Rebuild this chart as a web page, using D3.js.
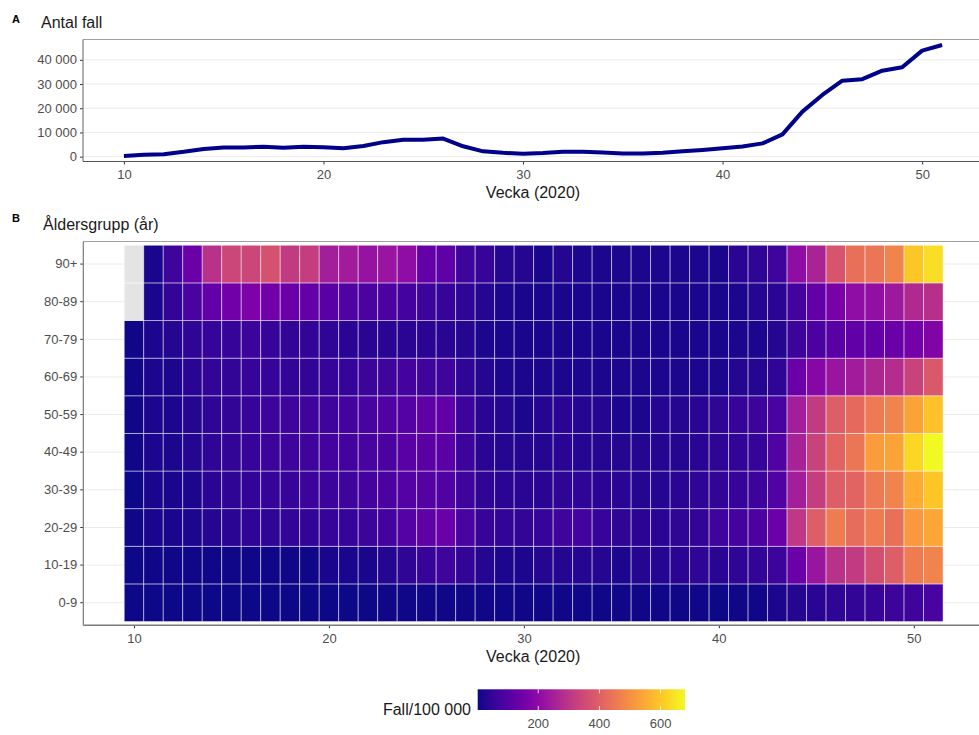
<!DOCTYPE html>
<html>
<head>
<meta charset="utf-8">
<script src="https://cdn.jsdelivr.net/npm/d3@7"></script>
<style>
  html, body { margin: 0; padding: 0; background: #fff; }
  svg { display: block; font-family: "Liberation Sans", Arial, Helvetica, sans-serif; }
</style>
</head>
<body>
<svg id="chart" width="979" height="735"></svg>
<script>
// ---------------- DATA ----------------
const weeks = [10,11,12,13,14,15,16,17,18,19,20,21,22,23,24,25,26,27,28,29,30,
               31,32,33,34,35,36,37,38,39,40,41,42,43,44,45,46,47,48,49,50,51];

// Panel A: number of cases per week
const cases = [300,800,1000,2000,3200,3800,3800,4100,3700,4100,3900,3500,4400,6000,7000,7000,7500,
               4300,2200,1600,1200,1500,2000,2000,1700,1300,1300,1600,2200,2800,3500,4200,5500,
               9200,18600,25500,31400,32000,35500,36900,43800,46100];

// Panel B: cases per 100 000 by age group (weeks 10..51), null = missing
const ageGroups = ["0-9","10-19","20-29","30-39","40-49","50-59","60-69","70-79","80-89","90+"];

const rate_0_9   = [2,4,4,4,4,4,4,4,4,4,4,4,4,5,5,5,5,5,5,5,5,5,5,5,5,5,5,5,6,6,4,6,7,
                    20,27,34,41,48,54,61,68,82];
const rate_10_19 = [2,7,7,7,7,7,7,7,7,7,14,14,14,27,41,54,68,48,27,20,20,27,27,27,27,20,27,27,34,41,34,41,48,
                    61,136,224,292,313,360,394,462,476];
const rate_20_29 = [7,14,14,20,27,34,41,41,48,48,54,54,61,75,102,116,136,82,54,48,48,54,68,75,54,41,34,34,41,48,68,75,88,
                    136,306,394,462,428,462,435,517,544];
const rate_30_39 = [3,14,14,20,34,41,48,54,54,61,61,68,75,88,102,102,95,68,41,34,34,34,41,41,34,34,27,27,34,41,48,54,61,
                    95,245,320,394,408,456,476,551,598];
const rate_40_49 = [7,20,20,27,41,48,54,61,68,68,75,75,82,88,109,109,109,61,34,27,27,27,34,27,27,27,27,27,27,34,41,48,54,
                    95,252,333,408,449,524,537,626,680];
const rate_50_59 = [7,20,20,27,41,48,54,61,68,68,68,75,82,95,102,116,122,61,34,27,20,27,34,27,27,20,20,27,27,34,41,54,61,
                    82,245,313,394,422,456,476,537,592];
const rate_60_69 = [7,20,20,34,48,48,54,54,48,48,54,54,61,68,75,68,68,41,27,20,20,20,20,20,20,20,20,20,20,20,20,27,27,
                    41,136,190,224,238,265,279,333,381];
const rate_70_79 = [7,20,27,41,54,54,61,54,48,48,41,34,34,34,34,34,34,27,20,14,14,14,14,14,14,14,14,14,14,14,14,20,20,
                    27,61,88,109,122,129,136,156,177];
const rate_80_89 = [null,14,48,82,129,150,170,150,136,129,109,95,88,88,75,61,54,41,27,20,14,14,14,14,14,14,14,14,14,14,14,20,27,
                    34,75,122,163,204,211,231,272,286];
const rate_90p   = [null,14,68,136,292,340,340,367,313,320,245,238,218,224,204,129,116,68,54,27,27,14,27,20,20,20,20,20,20,20,14,34,41,
                    68,204,258,374,435,449,476,598,639];

const rateRows = [rate_0_9, rate_10_19, rate_20_29, rate_30_39, rate_40_49,
                  rate_50_59, rate_60_69, rate_70_79, rate_80_89, rate_90p];

const yTicksA = [0, 10000, 20000, 30000, 40000];
const xTicks = [10, 20, 30, 40, 50];
const legendTicks = [200, 400, 600];

// ---------------- DRAW ----------------
const svg = d3.select("#chart");
const fmt = d => d3.format(",")(d).replace(/,/g, "\u2009").replace(/\u2009/g, " ");
const tickColor = "#4d4d4d";
const axisLineColor = "#7a7a7a";
const gridColor = "#ebebeb";

// ===== Panel A =====
const A = { left: 83, right: 983, top: 39.5, bottom: 161.5 };
const aMin = d3.min(cases), aMax = d3.max(cases);
const aPad = (aMax - aMin) * 0.05;
const xA = d3.scaleLinear().domain([d3.min(weeks) - (d3.max(weeks)-d3.min(weeks))*0.05,
                                    d3.max(weeks) + (d3.max(weeks)-d3.min(weeks))*0.05])
             .range([A.left, A.right]);
const yA = d3.scaleLinear().domain([aMin - aPad, aMax + aPad]).range([A.bottom, A.top]);

const gA = svg.append("g");
// gridlines
gA.selectAll("line.grid").data(yTicksA).join("line")
  .attr("x1", A.left).attr("x2", A.right)
  .attr("y1", d => yA(d)).attr("y2", d => yA(d))
  .attr("stroke", gridColor).attr("stroke-width", 1);
// top border
gA.append("line").attr("x1", A.left).attr("x2", A.right).attr("y1", A.top).attr("y2", A.top)
  .attr("stroke", "#a0a0a0").attr("stroke-width", 1.2);

// line
const line = d3.line().x((d, i) => xA(weeks[i])).y(d => yA(d));
gA.append("path").datum(cases)
  .attr("d", line).attr("fill", "none")
  .attr("stroke", "#00008B").attr("stroke-width", 4)
  .attr("stroke-linejoin", "round").attr("stroke-linecap", "butt");

// axes
const axAy = d3.axisLeft(yA).tickValues(yTicksA).tickSize(3).tickPadding(3).tickFormat(fmt);
const gAy = gA.append("g").attr("transform", `translate(${A.left},0)`).call(axAy);
const axAx = d3.axisBottom(xA).tickValues(xTicks).tickSize(3).tickPadding(5);
const gAx = gA.append("g").attr("transform", `translate(0,${A.bottom})`).call(axAx);
[gAy, gAx].forEach(g => {
  g.select(".domain").remove();
  g.selectAll(".tick line").attr("stroke", "#333").attr("stroke-width", 1);
  g.selectAll(".tick text").attr("fill", tickColor).attr("font-size", 13)
   .attr("font-family", "'Liberation Sans', Arial, sans-serif");
});
gA.append("line").attr("x1", A.left).attr("x2", A.left).attr("y1", A.top).attr("y2", A.bottom)
  .attr("stroke", axisLineColor).attr("stroke-width", 1.2);
gA.append("line").attr("x1", A.left).attr("x2", A.right).attr("y1", A.bottom).attr("y2", A.bottom)
  .attr("stroke", "#555").attr("stroke-width", 1.2);

svg.append("text").attr("x", 12).attr("y", 22.5).text("A")
  .attr("font-size", 11).attr("font-weight", "bold").attr("fill", "#000");
svg.append("text").attr("x", 41).attr("y", 28).text("Antal fall")
  .attr("font-size", 16).attr("fill", "#1a1a1a");
svg.append("text").attr("x", (A.left + 979) / 2 + 2).attr("y", 198).text("Vecka (2020)")
  .attr("text-anchor", "middle").attr("font-size", 16).attr("fill", "#1a1a1a");

// ===== Panel B =====
const B = { left: 83.3, right: 984, top: 241.5, bottom: 625.3 };
const wMin = d3.min(weeks) - 0.5, wMax = d3.max(weeks) + 0.5;
const wPad = (wMax - wMin) * 0.05;
const xB = d3.scaleLinear().domain([wMin - wPad, wMax + wPad]).range([B.left, B.right]);
// discrete y with 0.6 unit expansion on each side
const nG = ageGroups.length;
const unit = (B.bottom - B.top) / (nG + 0.2);
const yB = d3.scaleBand().domain(ageGroups.slice().reverse())
  .range([B.top + 0.1 * unit, B.bottom - 0.1 * unit]).padding(0);

const allVals = rateRows.flat().filter(v => v != null);
const vMin = d3.min(allVals), vMax = d3.max(allVals);
const color = d3.scaleSequential(d3.interpolatePlasma).domain([vMin, vMax]);

const gB = svg.append("g");
gB.selectAll("line.grid").data(ageGroups).join("line")
  .attr("x1", B.left).attr("x2", B.right)
  .attr("y1", d => yB(d) + yB.bandwidth() / 2).attr("y2", d => yB(d) + yB.bandwidth() / 2)
  .attr("stroke", gridColor).attr("stroke-width", 1);
gB.append("line").attr("x1", B.left).attr("x2", B.right).attr("y1", B.top).attr("y2", B.top)
  .attr("stroke", "#a0a0a0").attr("stroke-width", 1.2);

const cells = [];
ageGroups.forEach((g, gi) => {
  rateRows[gi].forEach((v, wi) => cells.push({ group: g, week: weeks[wi], value: v }));
});
gB.selectAll("rect.cell").data(cells).join("rect")
  .attr("x", d => xB(d.week - 0.5))
  .attr("width", d => xB(d.week + 0.5) - xB(d.week - 0.5))
  .attr("y", d => yB(d.group))
  .attr("height", yB.bandwidth())
  .attr("fill", d => d.value == null ? "#e4e4e4" : color(d.value))
  .attr("stroke", "#ffffff").attr("stroke-opacity", 0.5).attr("stroke-width", 0.9);

const axBy = d3.axisLeft(yB).tickSize(3).tickPadding(3);
const gBy = gB.append("g").attr("transform", `translate(${B.left},0)`).call(axBy);
const axBx = d3.axisBottom(xB).tickValues(xTicks).tickSize(3).tickPadding(5);
const gBx = gB.append("g").attr("transform", `translate(0,${B.bottom})`).call(axBx);
[gBy, gBx].forEach(g => {
  g.select(".domain").remove();
  g.selectAll(".tick line").attr("stroke", "#333").attr("stroke-width", 1);
  g.selectAll(".tick text").attr("fill", tickColor).attr("font-size", 13)
   .attr("font-family", "'Liberation Sans', Arial, sans-serif");
});
gB.append("line").attr("x1", B.left).attr("x2", B.left).attr("y1", B.top).attr("y2", B.bottom)
  .attr("stroke", axisLineColor).attr("stroke-width", 1.2);
gB.append("line").attr("x1", B.left).attr("x2", B.right).attr("y1", B.bottom).attr("y2", B.bottom)
  .attr("stroke", axisLineColor).attr("stroke-width", 1.6);

svg.append("text").attr("x", 12).attr("y", 222).text("B")
  .attr("font-size", 11).attr("font-weight", "bold").attr("fill", "#000");
svg.append("text").attr("x", 43).attr("y", 229.5).text("Åldersgrupp (år)")
  .attr("font-size", 16).attr("fill", "#1a1a1a");
svg.append("text").attr("x", (B.left + 979) / 2 + 2).attr("y", 662).text("Vecka (2020)")
  .attr("text-anchor", "middle").attr("font-size", 16).attr("fill", "#1a1a1a");

// ===== Legend =====
const L = { x0: 477.7, x1: 685, y0: 689.3, y1: 710 };
const defs = svg.append("defs");
const grad = defs.append("linearGradient").attr("id", "plasmaGrad")
  .attr("x1", "0%").attr("x2", "100%").attr("y1", "0%").attr("y2", "0%");
d3.range(0, 1.0001, 0.05).forEach(t => {
  grad.append("stop").attr("offset", (t * 100) + "%").attr("stop-color", d3.interpolatePlasma(t));
});
svg.append("rect").attr("x", L.x0).attr("y", L.y0).attr("width", L.x1 - L.x0).attr("height", L.y1 - L.y0)
  .attr("fill", "url(#plasmaGrad)");
const xL = d3.scaleLinear().domain([vMin, vMax]).range([L.x0, L.x1]);
const gL = svg.append("g");
legendTicks.forEach(v => {
  gL.append("line").attr("x1", xL(v)).attr("x2", xL(v)).attr("y1", L.y0).attr("y2", L.y0 + 4)
    .attr("stroke", "#fff").attr("stroke-opacity", 0.8);
  gL.append("line").attr("x1", xL(v)).attr("x2", xL(v)).attr("y1", L.y1 - 4).attr("y2", L.y1)
    .attr("stroke", "#fff").attr("stroke-opacity", 0.8);
  gL.append("text").attr("x", xL(v)).attr("y", 727.5).text(v)
    .attr("text-anchor", "middle").attr("font-size", 13).attr("fill", tickColor);
});
svg.append("text").attr("x", 471).attr("y", 715).text("Fall/100 000")
  .attr("text-anchor", "end").attr("font-size", 16).attr("fill", "#1a1a1a");
</script>
</body>
</html>
